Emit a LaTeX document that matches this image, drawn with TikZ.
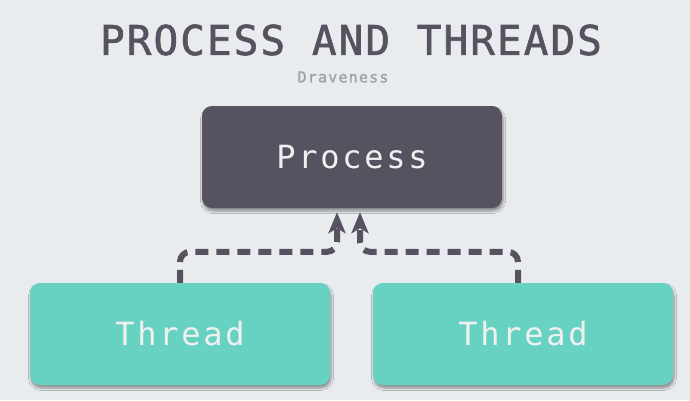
\documentclass[tikz,border=0pt]{standalone}
\usepackage{fontspec}
\usepackage{xcolor}
\usetikzlibrary{arrows.meta,shadows.blur}
\newfontfamily\monofont{DejaVu Sans Mono}
\definecolor{bg}{HTML}{E9ECEF}
\definecolor{darkbox}{HTML}{56525F}
\definecolor{threadbox}{HTML}{67D2C2}
\definecolor{subtitle}{HTML}{98A4A8}

\begin{document}
\begin{tikzpicture}[x=1pt,y=-1pt,
    box/.style={rounded corners=10pt, minimum width=300pt, minimum height=102pt,
      text=white!94!black, blur shadow={shadow xshift=1pt, shadow yshift=-3pt, shadow blur radius=2.5pt, shadow blur steps=6, shadow opacity=40},
      font=\monofont\fontsize{32}{32}\selectfont\addfontfeatures{LetterSpace=8.5}},
    link/.style={draw=darkbox, line width=6pt, dash pattern=on 13pt off 8pt, rounded corners=10pt,
      -{Stealth[length=21pt, width=17pt, inset=5pt]}}]
    \fill[bg] (0,0) rectangle (690,400);
    % title
    \node[text=darkbox, font=\monofont\fontsize{41}{41}\selectfont\addfontfeatures{LetterSpace=5,FakeBold=1.5}] (title) at (351,40) {PROCESS AND THREADS};
    \node[text=subtitle, font=\monofont\fontsize{15}{15}\selectfont\addfontfeatures{LetterSpace=8,FakeBold=1.5}] (author) at (343,77) {Draveness};
    % boxes
    \node[box, fill=darkbox] (process) at (352,157) {Process};
    \node[box, fill=threadbox] (left) at (180,334) {Thread};
    \node[box, fill=threadbox] (right) at (523,334) {Thread};
    % arrows
    \draw[link] (left.north) -- ++(0,-31) -| ([xshift=-15pt,yshift=-4pt]process.south);
    \draw[link] ([xshift=-5pt]right.north) -- ++(0,-31) -| ([xshift=8pt,yshift=-4pt]process.south);
\end{tikzpicture}
\end{document}
